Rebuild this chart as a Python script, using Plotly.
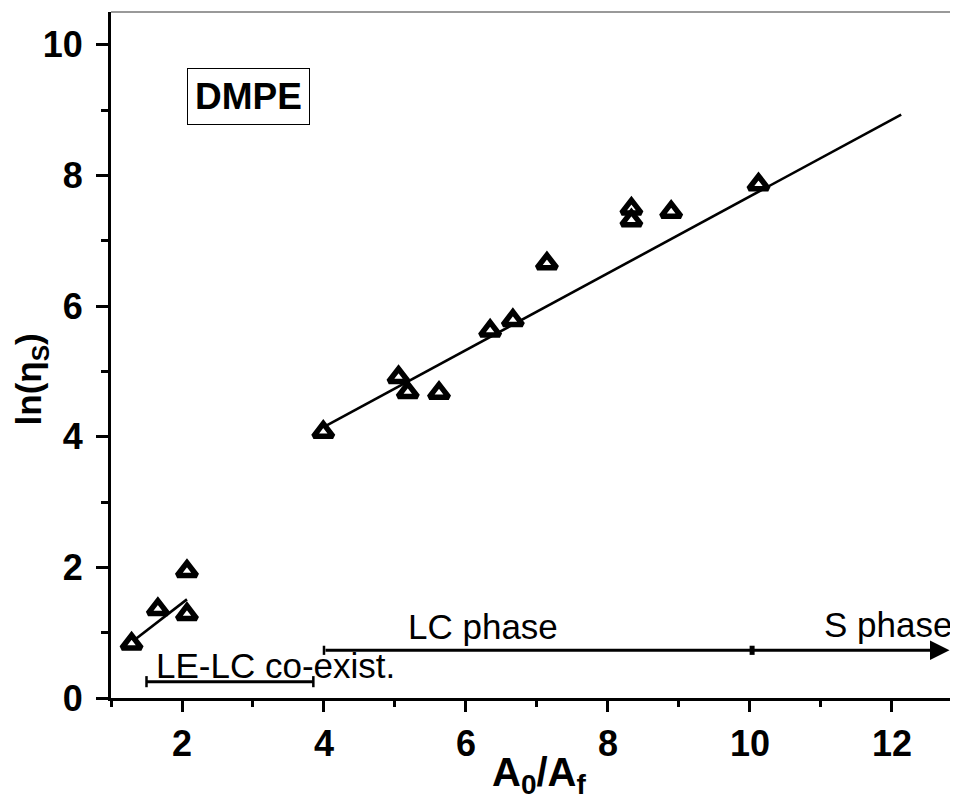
import plotly.graph_objects as go

# ---- data ----
low_x = [1.29, 1.66, 2.07, 2.07]
low_y = [0.83, 1.36, 1.94, 1.28]
high_x = [3.99, 5.05, 5.18, 5.62, 6.34, 6.66, 7.14, 8.33, 8.33, 8.89, 10.12]
high_y = [4.07, 4.91, 4.68, 4.67, 5.62, 5.78, 6.65, 7.49, 7.31, 7.44, 7.86]

fit_low_x = [1.32, 2.07]
fit_low_y = [0.88, 1.51]
fit_high_x = [4.0, 12.13]
fit_high_y = [4.15, 8.93]

# phase ranges
coexist_range = [1.50, 3.85]
coexist_y = 0.25
lc_range = [4.0, 12.81]
lc_y = 0.73
s_start = 10.03

x_ticks = [2, 4, 6, 8, 10, 12]
y_ticks = [0, 2, 4, 6, 8, 10]

FONT = "Liberation Sans, Arial, sans-serif"

fig = go.Figure()

for fx, fy in [(fit_low_x, fit_low_y), (fit_high_x, fit_high_y)]:
    fig.add_trace(go.Scatter(x=fx, y=fy, mode="lines",
                             line=dict(color="black", width=2.6),
                             showlegend=False, hoverinfo="skip"))

for px, py in [(low_x, low_y), (high_x, high_y)]:
    fig.add_trace(go.Scatter(x=px, y=py, mode="markers",
                             marker=dict(symbol="triangle-up", size=17, color="white",
                                         line=dict(color="black", width=5.5)),
                             showlegend=False))

shapes = []
shapes.append(dict(type="line", xref="x", yref="y", x0=coexist_range[0], x1=coexist_range[1],
                   y0=coexist_y, y1=coexist_y, line=dict(color="black", width=3)))
for cx in coexist_range:
    shapes.append(dict(type="line", xref="x", yref="y", x0=cx, x1=cx,
                       y0=coexist_y - 0.085, y1=coexist_y + 0.085, line=dict(color="black", width=2.5)))
shapes.append(dict(type="line", xref="x", yref="y", x0=lc_range[0], x1=lc_range[0],
                   y0=lc_y - 0.07, y1=lc_y + 0.07, line=dict(color="black", width=2.5)))
shapes.append(dict(type="line", xref="x", yref="y", x0=s_start, x1=s_start,
                   y0=lc_y - 0.07, y1=lc_y + 0.07, line=dict(color="black", width=5)))
shapes.append(dict(type="line", xref="paper", yref="paper", x0=0, x1=1, y0=1, y1=1,
                   line=dict(color="#777777", width=1.5)))

annotations = [
    dict(x=lc_range[1], y=lc_y, ax=lc_range[0], ay=lc_y, xref="x", yref="y",
         axref="x", ayref="y", text="", showarrow=True, arrowhead=2,
         arrowsize=1.3, arrowwidth=3, arrowcolor="black"),
    dict(x=2.93, y=9.21, xref="x", yref="y", text="<b>DMPE</b>", showarrow=False,
         font=dict(family=FONT, size=37, color="black"),
         bordercolor="black", borderwidth=1, borderpad=7, bgcolor="white"),
    dict(x=1.60, y=0.50, xref="x", yref="y", text="LE-LC co-exist.", showarrow=False,
         xanchor="left", yanchor="middle", font=dict(family=FONT, size=35, color="black")),
    dict(x=6.24, y=1.10, xref="x", yref="y", text="LC phase", showarrow=False,
         xanchor="center", yanchor="middle", font=dict(family=FONT, size=35, color="black")),
    dict(x=12.88, y=1.12, xref="x", yref="y", text="S phase", showarrow=False,
         xanchor="right", yanchor="middle", font=dict(family=FONT, size=35, color="black")),
    # axis titles
    dict(x=0.505, y=-0.112, xref="paper", yref="paper", text="<b>A<sub>0</sub>/A<sub>f</sub></b>",
         showarrow=False, xanchor="center", yanchor="middle",
         font=dict(family=FONT, size=40, color="black")),
    dict(x=-0.094, y=0.465, xref="paper", yref="paper", text="<b>ln(η<sub>S</sub>)</b>",
         showarrow=False, xanchor="center", yanchor="middle", textangle=-90,
         font=dict(family=FONT, size=35, color="black")),
]

# page body has an 8px margin, so the figure is sized to end at the window edges
fig.update_layout(
    width=950, height=792,
    margin=dict(l=103, r=0, t=4, b=102, autoexpand=False),
    plot_bgcolor="white", paper_bgcolor="white",
    shapes=shapes, annotations=annotations,
    font=dict(family=FONT, color="black"),
)

fig.update_xaxes(
    range=[1, 12.93], tickvals=x_ticks, ticktext=[str(v) for v in x_ticks],
    showgrid=False, zeroline=False, automargin=False,
    showline=True, linecolor="black", linewidth=3,
    ticks="outside", ticklen=11, tickwidth=2.5, tickcolor="black",
    minor=dict(tickvals=[1, 3, 5, 7, 9, 11], ticks="outside", ticklen=6, tickwidth=2.5, tickcolor="black"),
    tickfont=dict(family=FONT, size=36, color="black", weight="bold"),
    ticklabelstandoff=1,
)
fig.update_yaxes(
    range=[0, 10.5], tickvals=y_ticks, ticktext=[str(v) for v in y_ticks],
    showgrid=False, zeroline=False, automargin=False,
    showline=True, linecolor="black", linewidth=3,
    ticks="outside", ticklen=12, tickwidth=2.5, tickcolor="black",
    minor=dict(tickvals=[1, 3, 5, 7, 9], ticks="outside", ticklen=7, tickwidth=2.5, tickcolor="black"),
    tickfont=dict(family=FONT, size=36, color="black", weight="bold"),
    ticklabelstandoff=6,
)

fig.write_html("out.html")
